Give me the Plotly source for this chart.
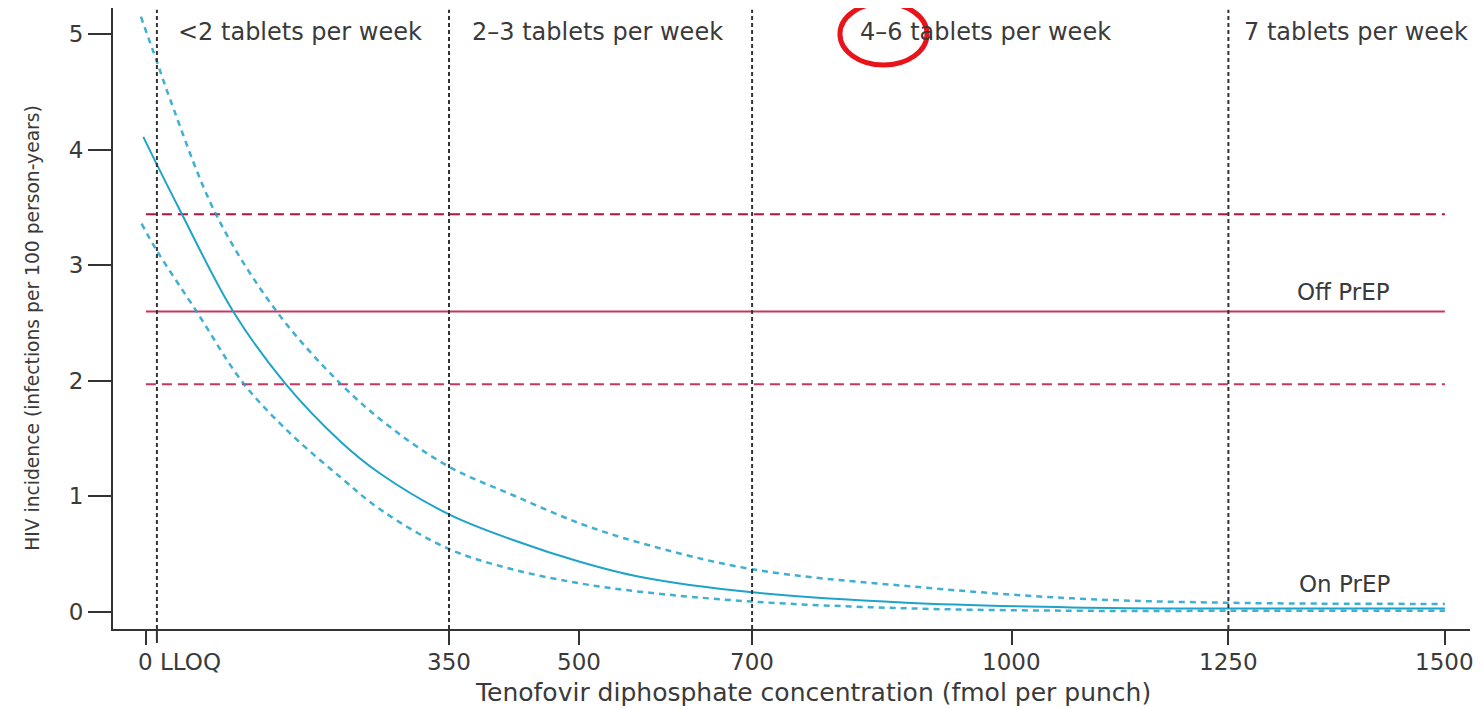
import plotly.graph_objects as go

# ---- data ----
conc_central = [-3, 12.7, 39, 100.8, 160.5, 224, 270, 350, 424, 501, 570, 700, 878, 1070, 1250, 1500]
inc_central = [4.11, 3.87, 3.48, 2.60, 1.98, 1.48, 1.20, 0.845, 0.623, 0.435, 0.305, 0.17, 0.08, 0.04, 0.03, 0.03]

conc_upper = [-5.8, 12.7, 27.7, 81.6, 151, 224, 282, 350, 424, 501, 570, 700, 878, 1070, 1250, 1500]
inc_upper = [5.15, 4.76, 4.44, 3.43, 2.60, 1.98, 1.60, 1.257, 1.01, 0.767, 0.60, 0.37, 0.225, 0.118, 0.08, 0.07]

conc_lower = [-5, 12.3, 58.5, 112.4, 166, 224, 272, 350, 424, 501, 570, 700, 878, 1070, 1250, 1500]
inc_lower = [3.36, 3.13, 2.60, 1.98, 1.55, 1.17, 0.88, 0.545, 0.368, 0.248, 0.176, 0.09, 0.032, 0.011, 0.01, 0.01]

off_prep_x = [0, 1500]
off_prep_rate = 2.6
off_prep_low = 1.97
off_prep_high = 3.44

lloq = 12.7
dose_cutoffs = [lloq, 350, 700, 1250]
dose_labels = ["<2 tablets per week", "2\u20133 tablets per week", "4\u20136 tablets per week", "7 tablets per week"]
dose_label_x = [178, 521, 970, 1397]

x_tickvals = [0, 350, 500, 700, 1000, 1250, 1500]
x_ticktext = ["0", "350", "500", "700", "1000", "1250", "1500"]
y_tickvals = [0, 1, 2, 3, 4, 5]

TEAL = "#1fa3c9"
RED = "#c8365f"
RED_DARK = "#b5123f"
INK = "#3a3a3a"
FONT = "DejaVu Sans"

fig = go.Figure()

# Off PrEP lines
fig.add_trace(go.Scatter(x=off_prep_x, y=[off_prep_high] * 2, mode="lines",
                         line=dict(color=RED_DARK, width=2, dash="10px,6px"), showlegend=False))
fig.add_trace(go.Scatter(x=off_prep_x, y=[off_prep_rate] * 2, mode="lines",
                         line=dict(color=RED, width=2), showlegend=False))
fig.add_trace(go.Scatter(x=off_prep_x, y=[off_prep_low] * 2, mode="lines",
                         line=dict(color=RED, width=2, dash="10px,6px"), showlegend=False))

# On PrEP curves
fig.add_trace(go.Scatter(x=conc_upper, y=inc_upper, mode="lines",
                         line=dict(color=TEAL, width=2.5, dash="6px,5px", shape="spline", smoothing=1.0),
                         opacity=0.85, showlegend=False))
fig.add_trace(go.Scatter(x=conc_lower, y=inc_lower, mode="lines",
                         line=dict(color=TEAL, width=2.5, dash="6px,5px", shape="spline", smoothing=1.0),
                         opacity=0.85, showlegend=False))
fig.add_trace(go.Scatter(x=conc_central, y=inc_central, mode="lines",
                         line=dict(color=TEAL, width=2, shape="spline", smoothing=1.0), showlegend=False))

# vertical dose cut-off lines
for xc in dose_cutoffs:
    fig.add_shape(type="line", xref="x", yref="paper", x0=xc, x1=xc, y0=0, y1=0.997,
                  line=dict(color="#333333", width=2, dash="4px,3px"), layer="above")

# dose labels
for lab, lx in zip(dose_labels, dose_label_x):
    fig.add_annotation(x=lx, y=5.02, text=lab, showarrow=False, xref="x", yref="y",
                       font=dict(family=FONT, size=24, color=INK))

fig.add_annotation(x=1383, y=2.77, text="Off PrEP", showarrow=False,
                   font=dict(family=FONT, size=23, color=INK))
fig.add_annotation(x=1384, y=0.24, text="On PrEP", showarrow=False,
                   font=dict(family=FONT, size=23, color=INK))

# x tick labels
for tv, tt in zip(x_tickvals, x_ticktext):
    fig.add_annotation(x=tv, y=0, xref="x", yref="paper", yshift=-33, text=tt,
                       showarrow=False, xanchor="center", yanchor="middle",
                       font=dict(family=FONT, size=23, color=INK))
# LLOQ tick label and tick mark
fig.add_annotation(x=lloq, y=0, xref="x", yref="paper", yshift=-33, xshift=1, text="LLOQ",
                   showarrow=False, xanchor="left", yanchor="middle",
                   font=dict(family=FONT, size=23, color=INK))
fig.add_shape(type="line", xref="x", yref="paper", x0=lloq, x1=lloq, y0=0, y1=-0.0225,
              line=dict(color="#333333", width=2))

# axis titles
fig.add_annotation(x=0.516, y=0, xref="paper", yref="paper", yshift=-63, yanchor="middle",
                   text="Tenofovir diphosphate concentration (fmol per punch)", showarrow=False,
                   font=dict(family=FONT, size=25, color=INK))
fig.add_annotation(x=0, y=0.485, xref="paper", yref="paper", xshift=-80, xanchor="center",
                   textangle=-90, text="HIV incidence (infections per 100 person-years)",
                   showarrow=False, font=dict(family=FONT, size=18.7, color=INK))

# red highlight ellipse
fig.add_shape(type="circle", xref="paper", yref="paper", x0=0.5357, x1=0.5999, y0=0.9082, y1=1.008,
              line=dict(color="#e8141a", width=5), layer="above")

fig.update_layout(
    width=1476, height=700,
    margin=dict(l=105, r=14, t=0, b=79),
    plot_bgcolor="white", paper_bgcolor="white",
    font=dict(family=FONT, color=INK),
)
fig.update_xaxes(range=[-38, 1529], tickvals=x_tickvals, showticklabels=False,
                 showgrid=False, zeroline=False, showline=True, linecolor="#333333", linewidth=2,
                 ticks="outside", ticklen=14, tickwidth=2, tickcolor="#333333")
fig.update_yaxes(range=[-0.147, 5.225], tickvals=y_tickvals,
                 showgrid=False, zeroline=False, showline=True, linecolor="#333333", linewidth=2,
                 ticks="outside", ticklen=23, tickwidth=2, tickcolor="#333333",
                 tickfont=dict(family=FONT, size=23, color=INK))

fig.write_html("out.html")
